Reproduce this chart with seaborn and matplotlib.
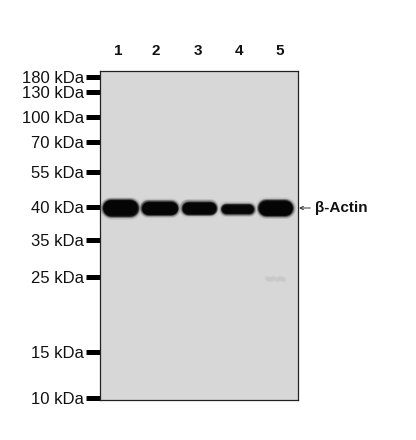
import pandas as pd
import matplotlib
matplotlib.use("Agg")
import matplotlib.pyplot as plt
import seaborn as sns

# marker ladder, migration is distance from the top of the gel (in px of the 416x440 image)
marker_labels = ["180 kDa", "130 kDa", "100 kDa", "70 kDa", "55 kDa", "40 kDa", "35 kDa", "25 kDa", "15 kDa", "10 kDa"]
marker_migration = [6, 21.5, 46, 71, 101, 136, 169, 206, 281, 327]

# bands, one per lane
lanes = ["1", "2", "3", "4", "5"]
lane_pos = [18, 56, 98, 139, 180]
band_start = [3, 42, 82, 122, 159]
band_end = [37, 77, 115, 153, 192]
band_migration = [137, 137, 137.5, 138, 137]
band_thickness = [15, 12, 11, 8, 14]

# faint smudge low on the right of the membrane
smudge_x = [167, 170, 173, 177, 180, 183]
smudge_y = [207, 208, 207, 208, 207, 208]

sns.set_theme(style="white")
plt.rcParams["font.family"] = ["Liberation Sans", "DejaVu Sans"]

fig = plt.figure(figsize=(4.16, 4.40), dpi=100)
ax = fig.add_axes([100 / 416, 1 - 400 / 440, 198 / 416, 329 / 440])
ax.set_facecolor("#d7d7d7")

px = 0.72  # points per pixel at dpi 100

sns.scatterplot(x=smudge_x, y=smudge_y, ax=ax, color="#c6c6c6", s=14, marker="o", linewidth=0, alpha=0.7)

# soft halo then solid core so the bands look blurred
halo = [(8, "#cdcdcd"), (6.5, "#b8b8b8"), (5, "#989898"), (3.5, "#6e6e6e"), (2.5, "#444444"), (1.5, "#1e1e1e"), (0.5, "#050505")]
for extra, grey in halo:
    for i in range(len(lanes)):
        t = band_thickness[i]
        df = pd.DataFrame({
            "x": [band_start[i] + t / 2, band_end[i] - t / 2],
            "y": [band_migration[i], band_migration[i]],
        })
        sns.lineplot(data=df, x="x", y="y", ax=ax, color=grey, linewidth=(t + extra) * px,
                     solid_capstyle="round", estimator=None, sort=False)

ax.set_xlim(0, 198)
ax.set_ylim(329, 0)
ax.set_xlabel("")
ax.set_ylabel("")

ax.set_yticks(marker_migration)
ax.set_yticklabels(marker_labels, fontsize=12, color="#111111")
ax.tick_params(axis="y", left=True, length=14 * px, width=5 * px, color="black", pad=1.5)

ax.xaxis.tick_top()
ax.set_xticks(lane_pos)
ax.set_xticklabels(lanes, fontsize=11, fontweight="bold", color="#111111")
ax.tick_params(axis="x", top=False, length=0, pad=9.5)

for side in ax.spines.values():
    side.set_visible(True)
    side.set_color("#222222")
    side.set_linewidth(0.9)

ax.annotate("β-Actin", xy=(199, 137), xytext=(215, 137), annotation_clip=False,
            fontsize=11, fontweight="bold", color="#111111", va="center", ha="left",
            arrowprops=dict(arrowstyle="->", color="#333333", lw=0.7, shrinkA=1, shrinkB=0, mutation_scale=6))

fig.savefig("out.png", dpi=100, facecolor="white")
